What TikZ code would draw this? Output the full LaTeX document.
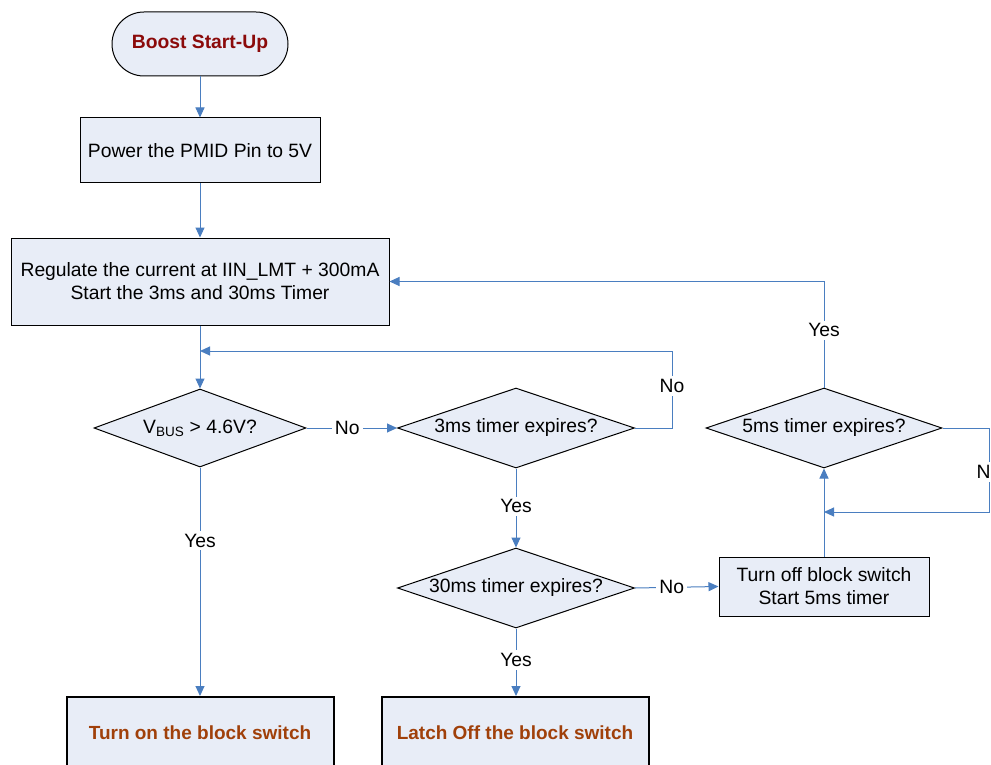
\documentclass[tikz,border=0pt]{standalone}
\usepackage{fontspec}
\setmainfont{Liberation Sans}
\usetikzlibrary{shapes.geometric,arrows.meta,calc}
\definecolor{boxfill}{HTML}{E8EDF7}
\definecolor{flow}{HTML}{4A7EC0}
\definecolor{startred}{HTML}{8B0A0A}
\definecolor{endbrown}{HTML}{A0400A}
\tikzset{
  txt/.style={font=\fontsize{19.3}{23}\selectfont},
  proc/.style={draw=black, line width=1pt, fill=boxfill, inner sep=0pt, align=center, txt},
  term/.style={proc, rounded corners=32pt, minimum width=176pt, minimum height=64pt,
    font=\fontsize{19.3}{23}\selectfont\bfseries, text=startred},
  endbox/.style={proc, line width=2pt, minimum width=267pt, minimum height=72pt,
    font=\fontsize{19}{23}\selectfont\bfseries, text=endbrown},
  dec/.style={diamond, aspect=2.9, draw=black, line width=1pt, fill=boxfill, inner sep=0pt, txt},
  conn/.style={draw=flow, line width=1pt, -{Triangle[length=10pt,width=9pt]}},
  lbl/.style={fill=white, inner sep=3pt, txt}
}
\begin{document}
\begin{tikzpicture}[x=1pt,y=-1pt]
\clip (0,0) rectangle (991,765);
\fill[white] (0,0) rectangle (991,765);
% nodes
\node[term] (start) at (200,44) {Boost Start-Up};
\node[proc, minimum width=240pt, minimum height=65pt] (pmid) at (200,150.5) {Power the PMID Pin to 5V};
\node[proc, minimum width=378pt, minimum height=87pt] (reg) at (200,281.5) {Regulate the current at IIN\_LMT + 300mA\\Start the 3ms and 30ms Timer};
\node[dec, minimum width=212pt, minimum height=78pt] (d1) at (200,428) {V\textsubscript{BUS} > 4.6V?};
\node[dec, minimum width=237pt, minimum height=80pt] (d2) at (516,428) {3ms timer expires?};
\node[dec, minimum width=237pt, minimum height=80pt] (d3) at (516,588) {30ms timer expires?};
\node[proc, minimum width=210pt, minimum height=59pt] (off) at (824,586.5) {Turn off block switch\\Start 5ms timer};
\node[dec, minimum width=236pt, minimum height=80pt] (d4) at (824,428) {5ms timer expires?};
\node[endbox] (on) at (200,733) {Turn on the block switch};
\node[endbox] (latch) at (515,733) {Latch Off the block switch};
\coordinate (l1) at (672,351);
\coordinate (r1) at (989,512);
% connectors
\draw[conn] (start) -- (pmid);
\draw[conn] (pmid) -- (reg);
\draw[conn] (reg) -- (d1);
\draw[conn] (d1.east) -- node[lbl, pos=0.45] (no1) {No} (d2.west);
\draw[conn] (d2.east) -| (l1) -- (l1 -| d1.north);
\node[lbl] (no2) at (672,386) {No};
\draw[conn] (d2.south) -- node[lbl, pos=0.48] (yes2) {Yes} (d3.north);
\draw[conn] (d1.south) -- node[lbl, pos=0.32] (yes1) {Yes} (on.north);
\draw[conn] (d3.south) -- node[lbl, pos=0.47] (yes3) {Yes} (d3.south |- latch.north);
\draw[conn] (d3.east) -- node[lbl, pos=0.44] (no3) {No} (off.west);
\draw[conn] (off.north) -- (d4.south);
\draw[conn] (d4.north) |- node[lbl, pos=0.27] (yes4) {Yes} (reg.east);
\draw[conn] (d4.east) -| (r1) -- (r1 -| d4.south);
\node[lbl] (no4) at (989,472) {No};
\end{tikzpicture}
\end{document}
